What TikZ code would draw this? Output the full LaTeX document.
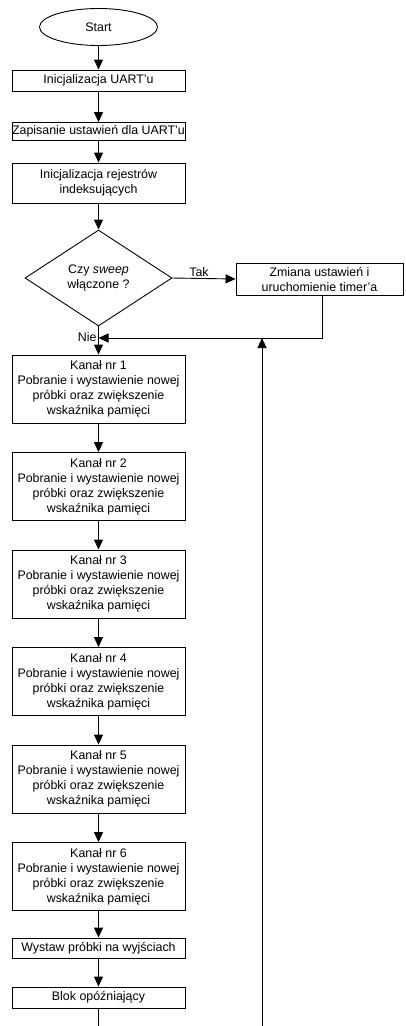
\documentclass[tikz,border=0pt]{standalone}
\usepackage{fontspec}
\setmainfont{Liberation Sans}
\usetikzlibrary{arrows.meta,shapes,positioning}
\tikzstyle{txt}=[font=\fontsize{12.4}{15}\selectfont]
\tikzstyle{blk}=[txt,draw,rectangle,minimum width=173pt,inner sep=0pt,align=center]
\tikzstyle{term}=[txt,draw,ellipse,minimum width=118pt,minimum height=37pt,inner sep=0pt]
\tikzstyle{test}=[txt,draw,diamond,minimum width=147pt,minimum height=96pt,inner sep=0pt,align=center]
\tikzstyle{flow}=[-{Triangle[width=9pt,length=10pt]}]

\begin{document}
\begin{tikzpicture}[x=1pt,y=-1pt,line width=0.9pt]
\useasboundingbox (0,0) rectangle (405,1026);
\node[term] (start) at (98.5,27) {Start};
\node[blk,minimum height=21pt] (uart) at (98.5,80.5) {Inicjalizacja UART'u};
\node[blk,minimum height=18pt] (ustaw) at (98.5,131.5) {Zapisanie ustawień dla UART'u};
\node[blk,minimum height=40pt] (rejestry) at (98.5,183) {Inicjalizacja rejestrów\\indeksujących};
\node[test] (sweep) at (98.5,278) {Czy \textit{sweep}\\włączone ?};
\node[blk,minimum width=167pt,minimum height=32pt] (timer) at (319.5,279) {Zmiana ustawień i\\uruchomienie timer'a};
% kanaly
\foreach \k in {1,...,6}
  \node[blk,minimum height=68pt] (kanal\k) at (98.5,{389+97.5*(\k-1)})
    {Kanał nr \k\\Pobranie i wystawienie nowej\\próbki oraz zwiększenie\\wskaźnika pamięci};
\node[blk,minimum height=20pt] (wyjscia) at (98.5,948) {Wystaw próbki na wyjściach};
\node[blk,minimum height=21pt] (opoznienie) at (98.5,997.5) {Blok opóźniający};
\coordinate (join) at (98.5,338);
\coordinate (back) at (262,338);
\coordinate (backend) at (262,1026);
\coordinate (out) at (98.5,1026);

\draw[flow] (start) -- (uart);
\draw[flow] (uart) -- (ustaw);
\draw[flow] (ustaw) -- (rejestry);
\draw[flow] (rejestry) -- (sweep);
\draw[flow] (sweep.east) -- node[txt,above,inner sep=1pt,xshift=-5pt] {Tak} (timer.west);
\draw[flow] (sweep.south) -- (kanal1) node[txt,pos=0.37,left,inner sep=1.5pt] {Nie};
\draw[flow] ([xshift=3pt]timer.south) |- (join);
\draw[flow] (backend) -- (back);
\foreach \k [evaluate=\k as \n using int(\k+1)] in {1,...,5}
  \draw[flow] (kanal\k) -- (kanal\n);
\draw[flow] (kanal6) -- (wyjscia);
\draw[flow] (wyjscia) -- (opoznienie);
\draw (opoznienie) -- (out);
\end{tikzpicture}
\end{document}
